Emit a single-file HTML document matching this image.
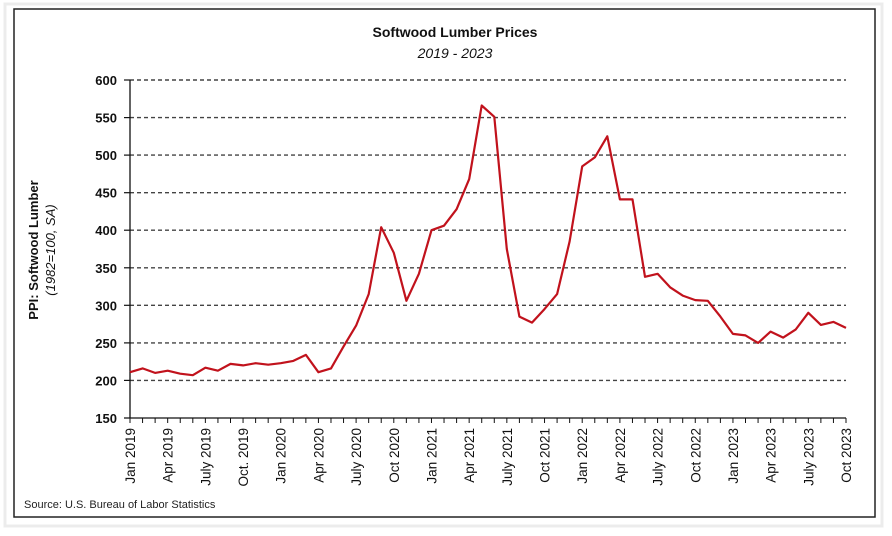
<!DOCTYPE html>
<html><head><meta charset="utf-8"><style>
body{margin:0;background:#fff;}
svg{display:block;font-family:"Liberation Sans",sans-serif;}
</style></head><body>
<svg width="892" height="536" viewBox="0 0 892 536" xmlns="http://www.w3.org/2000/svg">
<rect x="0" y="0" width="892" height="536" fill="#fff"/>
<rect x="5" y="4" width="877" height="522" fill="none" stroke="#ececec" stroke-width="3"/>
<rect x="14" y="9" width="861" height="508" fill="#fff" stroke="#222" stroke-width="1.5"/>
<text x="455" y="37" text-anchor="middle" font-size="14" font-weight="bold" fill="#111">Softwood Lumber Prices</text>
<text x="455" y="58" text-anchor="middle" font-size="14" font-style="italic" fill="#111">2019 - 2023</text>
<g stroke="#444" stroke-width="1.4" stroke-dasharray="4,3">
<line x1="130" y1="80" x2="846" y2="80"/><line x1="130" y1="117.6" x2="846" y2="117.6"/>
<line x1="130" y1="155.1" x2="846" y2="155.1"/><line x1="130" y1="192.7" x2="846" y2="192.7"/>
<line x1="130" y1="230.2" x2="846" y2="230.2"/><line x1="130" y1="267.8" x2="846" y2="267.8"/>
<line x1="130" y1="305.3" x2="846" y2="305.3"/><line x1="130" y1="342.9" x2="846" y2="342.9"/>
<line x1="130" y1="380.4" x2="846" y2="380.4"/>
</g>
<g stroke="#111" stroke-width="1.2">
<line x1="124" y1="80" x2="130" y2="80"/><line x1="124" y1="117.6" x2="130" y2="117.6"/><line x1="124" y1="155.1" x2="130" y2="155.1"/><line x1="124" y1="192.7" x2="130" y2="192.7"/><line x1="124" y1="230.2" x2="130" y2="230.2"/><line x1="124" y1="267.8" x2="130" y2="267.8"/><line x1="124" y1="305.3" x2="130" y2="305.3"/><line x1="124" y1="342.9" x2="130" y2="342.9"/><line x1="124" y1="380.4" x2="130" y2="380.4"/>
</g>
<g font-size="13" font-weight="bold" text-anchor="end" fill="#111">
<text x="117" y="85">600</text><text x="117" y="122.6">550</text><text x="117" y="160.1">500</text>
<text x="117" y="197.7">450</text><text x="117" y="235.2">400</text><text x="117" y="272.8">350</text>
<text x="117" y="310.3">300</text><text x="117" y="347.9">250</text><text x="117" y="385.4">200</text>
<text x="117" y="423">150</text>
</g>
<line x1="130" y1="80" x2="130" y2="418" stroke="#111" stroke-width="1.3"/>
<line x1="124" y1="418" x2="846" y2="418" stroke="#111" stroke-width="1.3"/>
<g id="ticks" stroke="#111" stroke-width="1"></g>
<g id="xl" font-size="13.5" fill="#111"></g>
<text transform="translate(38,250) rotate(-90)" text-anchor="middle" font-size="13" font-weight="bold" fill="#111">PPI: Softwood Lumber</text>
<text transform="translate(55,250) rotate(-90)" text-anchor="middle" font-size="13" font-style="italic" fill="#111">(1982=100, SA)</text>
<text x="24" y="508" font-size="11" fill="#222">Source: U.S. Bureau of Labor Statistics</text>
<polyline id="ln" fill="none" stroke="#c1121c" stroke-width="2.2" stroke-linejoin="round"/>
</svg>
<script>
var v=[211,216,210,213,209,207,217,213,222,220,223,221,223,226,234,211,216,245,273,315,404,370,306,342,400,406,428,468,566,551,375,285,277,295,315,385,485,497,525,441,441,338,342,324,313,307,306,285,262,260,250,265,257,268,290,274,278,270];
var dx=716/57,p=[],t="",l="";
for(var i=0;i<v.length;i++){var x=130+i*dx;p.push(x.toFixed(1)+","+(418-(v[i]-150)*338/450).toFixed(1));
t+='<line x1="'+x+'" y1="418" x2="'+x+'" y2="423"/>';}
var labs=["Jan 2019","Apr 2019","July 2019","Oct. 2019","Jan 2020","Apr 2020","July 2020","Oct 2020","Jan 2021","Apr 2021","July 2021","Oct 2021","Jan 2022","Apr 2022","July 2022","Oct 2022","Jan 2023","Apr 2023","July 2023","Oct 2023"];
for(var k=0;k<labs.length;k++){var x=130+k*3*dx+5;l+='<text transform="translate('+x.toFixed(1)+',428) rotate(-90)" text-anchor="end">'+labs[k]+'</text>';}
document.getElementById("ln").setAttribute("points",p.join(" "));
document.getElementById("ticks").innerHTML=t;document.getElementById("xl").innerHTML=l;
</script>
</body></html>
